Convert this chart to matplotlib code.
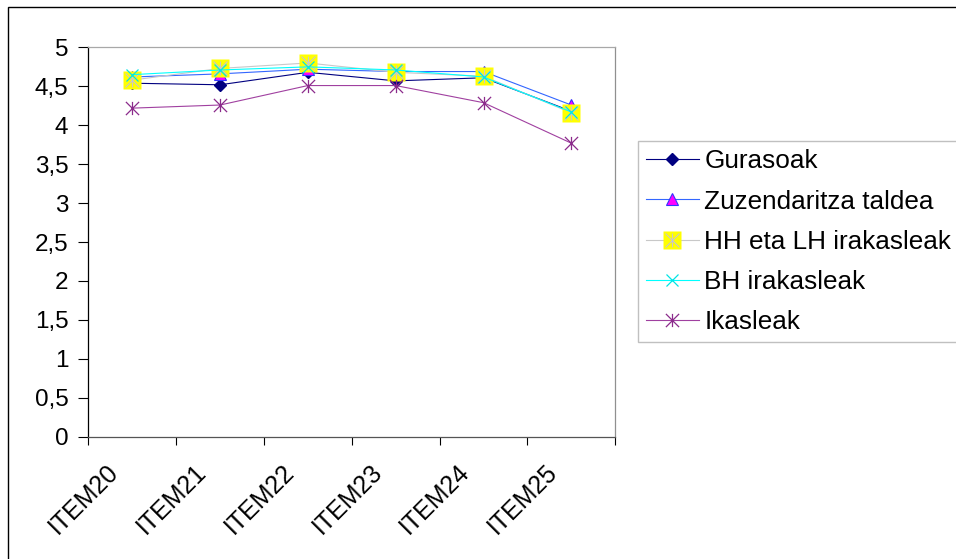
import numpy as np
import matplotlib
matplotlib.use("Agg")
import matplotlib.pyplot as plt
import matplotlib.transforms as mtransforms
from matplotlib.path import Path
from matplotlib.patches import Rectangle
from matplotlib.legend_handler import HandlerTuple

plt.rcParams['font.family'] = ['Liberation Sans', 'DejaVu Sans']

# data
items = ['ITEM20', 'ITEM21', 'ITEM22', 'ITEM23', 'ITEM24', 'ITEM25']
gurasoak = [4.54, 4.52, 4.68, 4.57, 4.61, 4.18]
zuzendaritza = [4.62, 4.66, 4.72, 4.69, 4.69, 4.26]
hh_lh = [4.58, 4.73, 4.80, 4.68, 4.63, 4.16]
bh = [4.65, 4.71, 4.75, 4.71, 4.62, 4.17]
ikasleak = [4.22, 4.26, 4.51, 4.51, 4.29, 3.77]
yticks = [0, 0.5, 1, 1.5, 2, 2.5, 3, 3.5, 4, 4.5, 5]
ylabels = ['0', '0,5', '1', '1,5', '2', '2,5', '3', '3,5', '4', '4,5', '5']

# excel style star: X plus a vertical bar
star = Path([(-1, -1), (1, 1), (-1, 1), (1, -1), (0, -1), (0, 1)],
            [Path.MOVETO, Path.LINETO, Path.MOVETO, Path.LINETO, Path.MOVETO, Path.LINETO])

W, H = 956, 559
fig = plt.figure(figsize=(W / 100, H / 100), dpi=100)
ax = fig.add_axes([88.4 / W, 1 - 436.7 / H, (615.2 - 88.4) / W, (436.7 - 47.4) / H])

# chart border (runs off the right and bottom edge)
fig.patches.append(Rectangle((8 / W, -0.1), 1.2, 1 - 7 / H + 0.1, transform=fig.transFigure,
                             fill=False, edgecolor='black', linewidth=1.0))

x = np.arange(len(items)) + 0.5
lw = 0.8

l1, = ax.plot(x, gurasoak, color='#000080', lw=lw, marker='D', ms=6,
              mfc='#000080', mec='#000080')
l2, = ax.plot(x, zuzendaritza, color='#3366FF', lw=lw, marker='^', ms=8.5,
              mfc='#FF00FF', mec='#3333FF', mew=0.8)
l3, = ax.plot(x, hh_lh, color='#C8C8C8', lw=lw, marker='s', ms=13,
              mfc='#FFFF00', mec='none')
l3b, = ax.plot(x, hh_lh, ls='none', marker=star, ms=10, mec='#C8C8C8',
               mfc='none', mew=0.8)
l4, = ax.plot(x, bh, color='#00FFFF', lw=lw, marker='x', ms=9, mec='#00E5E5', mew=0.9)
l5, = ax.plot(x, ikasleak, color='#A040A0', lw=lw, marker=star, ms=9.5,
              mec='#8B2B8B', mew=0.9)

ax.set_xlim(0, len(items))
ax.set_ylim(0, 5)
ax.set_yticks(yticks)
ax.set_yticklabels(ylabels)
ax.set_xticks(np.arange(len(items) + 1))
ax.set_xticklabels([])
ax.set_xticks(x, minor=True)
ax.set_xticklabels(items, minor=True, rotation=45, ha='right', va='top',
                   rotation_mode='anchor')

ax.tick_params(axis='y', direction='out', length=7, width=0.8, color='black',
               labelsize=17.5, pad=7.5)
ax.tick_params(axis='x', which='major', direction='out', length=6, width=0.8,
               color='black')
ax.tick_params(axis='x', which='minor', length=0, labelsize=18, pad=14)

# excel puts the end of the rotated label a bit left of the category centre
shift = mtransforms.ScaledTranslation(-26 / 100, -4 / 100, fig.dpi_scale_trans)
for lab in ax.get_xticklabels(minor=True):
    lab.set_transform(lab.get_transform() + shift)

ax.spines['left'].set_color('black')
ax.spines['bottom'].set_color('#555555')
ax.spines['top'].set_color('#A8A8A8')
ax.spines['right'].set_color('#909090')
for s in ax.spines.values():
    s.set_linewidth(0.9)

leg = ax.legend([l1, l2, (l3, l3b), l4, l5],
                ['Gurasoak', 'Zuzendaritza taldea', 'HH eta LH irakasleak',
                 'BH irakasleak', 'Ikasleak'],
                handler_map={tuple: HandlerTuple(ndivide=1)},
                loc='upper left', bbox_to_anchor=(638 / W, 1 - 141 / H),
                bbox_transform=fig.transFigure, borderaxespad=0,
                fontsize=18.8, numpoints=1, handlelength=2.0, handletextpad=0.22,
                labelspacing=0.62, borderpad=0.32, fancybox=False,
                framealpha=1, edgecolor='#C0C0C0')
leg.get_frame().set_linewidth(1.0)

fig.savefig('out.png', dpi=100)
